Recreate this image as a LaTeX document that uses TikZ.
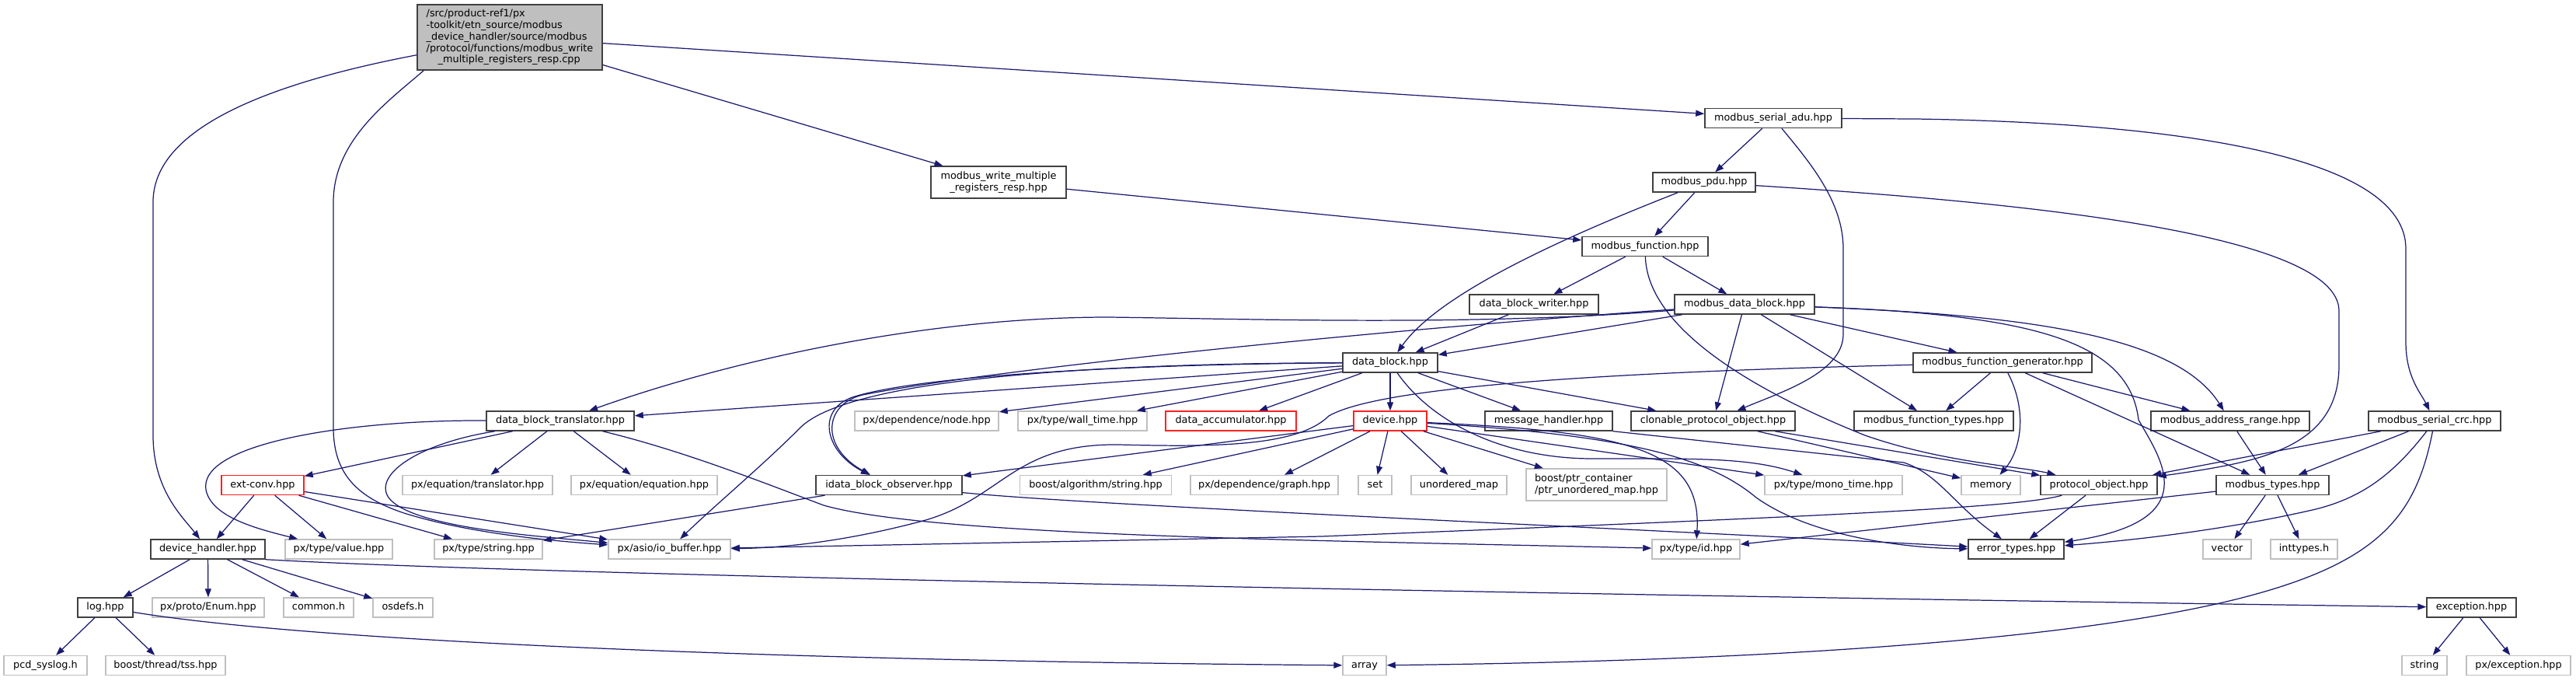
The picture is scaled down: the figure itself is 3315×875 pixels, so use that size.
\documentclass[tikz,border=0pt]{standalone}
\usepackage{fontspec}
\newfontfamily\graphfont{DejaVu Sans}
\usetikzlibrary{arrows.meta}
\definecolor{linkblue}{HTML}{191970}
\definecolor{greyhi}{HTML}{BFBFBF}
\definecolor{greylo}{HTML}{404040}
\definecolor{cutred}{HTML}{FF2020}

\begin{document}
\begin{tikzpicture}[
    x=0.01cm, y=-0.01cm,
    font={\graphfont\fontsize{3.65}{4.2}\selectfont},
    file/.style={rectangle, fill=white, line width=0.4pt, inner sep=0pt, minimum height=0.25cm, align=center},
    oneline/.style={file, text height=2.75pt, text depth=0.85pt},
    twoline/.style={file, minimum height=0.41cm},
    docfile/.style={oneline, draw=greylo},
    extfile/.style={oneline, draw=greyhi},
    cutfile/.style={oneline, draw=cutred},
    rootfile/.style={file, draw=greylo, fill=greyhi, align=left, minimum height=0.84cm},
    link/.style={-{Triangle[length=0.11cm, width=0.08cm]}, draw=linkblue, line width=0.35pt}
]

\path[fill=white, use as bounding box] (0,0) rectangle (3315,875);

\node[rootfile, minimum width=2.38cm] (src) at (656,48) {/src/product-ref1/px\\-toolkit/etn\_source/modbus\\\_device\_handler/source/modbus\\/protocol/functions/modbus\_write\\\hspace*{0.15cm}\_multiple\_registers\_resp.cpp};

\node[docfile, minimum width=1.76cm] (adu) at (2282,152) {modbus\_serial\_adu.hpp};
\node[twoline, draw=greylo, minimum width=1.74cm] (wrresp) at (1285,234.5) {modbus\_write\_multiple\\\_registers\_resp.hpp};
\node[docfile, minimum width=1.32cm] (pdu) at (2193,234.5) {modbus\_pdu.hpp};
\node[docfile, minimum width=1.62cm] (func) at (2117,317) {modbus\_function.hpp};
\node[docfile, minimum width=1.66cm] (writer) at (1974,391.5) {data\_block\_writer.hpp};
\node[docfile, minimum width=1.80cm] (mdblock) at (2245,391.5) {modbus\_data\_block.hpp};
\node[docfile, minimum width=1.22cm] (dblock) at (1789,466.5) {data\_block.hpp};
\node[docfile, minimum width=2.30cm] (fgen) at (2577,466.5) {modbus\_function\_generator.hpp};

\node[docfile, minimum width=1.90cm] (transl) at (721,541.5) {data\_block\_translator.hpp};
\node[extfile, minimum width=1.85cm] (depnode) at (1192.5,541.5) {px/dependence/node.hpp};
\node[extfile, minimum width=1.66cm] (walltime) at (1393,541.5) {px/type/wall\_time.hpp};
\node[cutfile, minimum width=1.68cm] (accum) at (1584,541.5) {data\_accumulator.hpp};
\node[cutfile, minimum width=0.94cm] (device) at (1789,541.5) {device.hpp};
\node[docfile, minimum width=1.64cm] (msghdl) at (1993,541.5) {message\_handler.hpp};
\node[docfile, minimum width=2.11cm] (clonable) at (2204.5,541.5) {clonable\_protocol\_object.hpp};
\node[docfile, minimum width=2.05cm] (ftypes) at (2488.5,541.5) {modbus\_function\_types.hpp};
\node[docfile, minimum width=2.04cm] (addrrange) at (2870,541.5) {modbus\_address\_range.hpp};
\node[docfile, minimum width=1.70cm] (crc) at (3133,541.5) {modbus\_serial\_crc.hpp};

\node[cutfile, minimum width=1.06cm] (extconv) at (338,624) {ext-conv.hpp};
\node[extfile, minimum width=1.93cm] (eqtransl) at (614.5,624) {px/equation/translator.hpp};
\node[extfile, minimum width=1.88cm] (eqeq) at (829,624) {px/equation/equation.hpp};
\node[docfile, minimum width=1.88cm] (observer) at (1144,624) {idata\_block\_observer.hpp};
\node[extfile, minimum width=1.95cm] (algostr) at (1410,624) {boost/algorithm/string.hpp};
\node[extfile, minimum width=1.90cm] (depgraph) at (1627,624) {px/dependence/graph.hpp};
\node[extfile, minimum width=0.43cm] (set) at (1769.5,624) {set};
\node[extfile, minimum width=1.23cm] (umap) at (1877.5,624) {unordered\_map};
\node[twoline, draw=greyhi, align=left, minimum width=1.81cm] (ptrmap) at (2054.5,623.5) {boost/ptr\_container\\/ptr\_unordered\_map.hpp};
\node[extfile, minimum width=1.77cm] (monotime) at (2359.5,624) {px/type/mono\_time.hpp};
\node[extfile, minimum width=0.76cm] (memory) at (2562,624) {memory};
\node[docfile, minimum width=1.50cm] (protobj) at (2701,624) {protocol\_object.hpp};
\node[docfile, minimum width=1.45cm] (mtypes) at (2924.5,624) {modbus\_types.hpp};

\node[docfile, minimum width=1.47cm] (devhdl) at (267.5,706.5) {device\_handler.hpp};
\node[extfile, minimum width=1.38cm] (value) at (436,706.5) {px/type/value.hpp};
\node[extfile, minimum width=1.39cm] (pxstring) at (628.5,706.5) {px/type/string.hpp};
\node[extfile, minimum width=1.57cm] (iobuf) at (861.5,706.5) {px/asio/io\_buffer.hpp};
\node[extfile, minimum width=1.13cm] (typeid) at (2182.5,706.5) {px/type/id.hpp};
\node[docfile, minimum width=1.23cm] (errtypes) at (2594.5,706.5) {error\_types.hpp};
\node[extfile, minimum width=0.62cm] (vector) at (2866,706.5) {vector};
\node[extfile, minimum width=0.86cm] (inttypes) at (2965,706.5) {inttypes.h};

\node[docfile, minimum width=0.71cm] (log) at (135.5,781.5) {log.hpp};
\node[extfile, minimum width=1.44cm] (enum) at (268,781.5) {px/proto/Enum.hpp};
\node[extfile, minimum width=0.90cm] (common) at (410,781.5) {common.h};
\node[extfile, minimum width=0.77cm] (osdefs) at (518.5,781.5) {osdefs.h};
\node[docfile, minimum width=1.15cm] (exception) at (3180.5,781.5) {exception.hpp};

\node[extfile, minimum width=1.07cm] (syslog) at (58.5,856) {pcd\_syslog.h};
\node[extfile, minimum width=1.54cm] (tss) at (213,856) {boost/thread/tss.hpp};
\node[extfile, minimum width=0.56cm] (array) at (1756,856) {array};
\node[extfile, minimum width=0.58cm] (string) at (3120,856) {string};
\node[extfile, minimum width=1.34cm] (pxexc) at (3241,856) {px/exception.hpp};

\draw[link] (src) -- (wrresp);
\draw[link] (src) -- (adu);
\draw[link] (src) .. controls (330,110) and (197,170) .. (197,260) -- (197,560) .. controls (197,630) and (235,665) .. (devhdl);
\draw[link] ([xshift=0.09cm]src.south west) .. controls (500,130) and (429,180) .. (429,260) -- (429,550) .. controls (429,610) and (460,640) .. (520,660) .. controls (600,685) and (700,695) .. (iobuf);

\draw[link] (wrresp) -- (func);
\draw[link] (adu) -- (pdu);
\draw[link] (adu) .. controls (2330,210) and (2372,260) .. (2372,320) -- (2372,430) .. controls (2372,480) and (2290,505) .. (clonable);
\draw[link] (adu) -- (2465,153) .. controls (2800,158) and (3096,200) .. (3096,320) -- (3096,440) .. controls (3096,485) and (3115,505) .. (crc);
\draw[link] (pdu) -- (func);
\draw[link] (pdu) .. controls (2000,310) and (1850,380) .. (dblock);
\draw[link] (pdu) .. controls (2600,260) and (3010,300) .. (3010,400) -- (3010,470) .. controls (3010,580) and (2900,595) .. (protobj);
\draw[link] (func) -- (writer);
\draw[link] (func) -- (mdblock);
\draw[link] (func) .. controls (2120,420) and (2250,500) .. (2400,560) .. controls (2500,595) and (2600,600) .. (protobj);
\draw[link] (writer) -- (dblock);

\draw[link] (mdblock) -- (dblock);
\draw[link] (mdblock) .. controls (1900,420) and (1600,410) .. (1426,408) .. controls (1200,408) and (950,460) .. (transl);
\draw[link] (mdblock) .. controls (1700,430) and (1250,480) .. (1110,508) .. controls (1060,520) and (1055,575) .. (observer);
\draw[link] (mdblock) -- (clonable);
\draw[link] (mdblock) -- (ftypes);
\draw[link] (mdblock) -- (fgen);
\draw[link] (mdblock) .. controls (2600,405) and (2800,430) .. (addrrange);
\draw[link] (mdblock) .. controls (2620,405) and (2740,440) .. (2752,540) .. controls (2780,590) and (2840,670) .. (errtypes);

\draw[link] (dblock) -- (transl);
\draw[link] (dblock) -- (depnode);
\draw[link] (dblock) -- (walltime);
\draw[link] (dblock) -- (accum);
\draw[link] (dblock) .. controls (1500,468) and (1200,480) .. (1100,510) .. controls (1050,525) and (1060,580) .. (observer);
\draw[link] (dblock) .. controls (1300,468) and (1080,500) .. (1030,550) .. controls (980,600) and (920,650) .. (iobuf);
\draw[link] (dblock) -- (device);
\draw[link] (dblock) -- (msghdl);
\draw[link] (dblock) -- (clonable);
\draw[link] (dblock) .. controls (1840,540) and (1930,590) .. (2050,590) .. controls (2180,590) and (2250,588) .. (monotime);

\draw[link] (fgen) -- (ftypes);
\draw[link] (fgen) .. controls (2610,530) and (2600,580) .. (memory);
\draw[link] (fgen) -- (mtypes);
\draw[link] (fgen) -- (addrrange);
\draw[link] (fgen) .. controls (2100,478) and (1780,495) .. (1710,535) .. controls (1670,575) and (1560,575) .. (1440,572) .. controls (1300,570) and (1290,645) .. (1180,672) .. controls (1080,698) and (1000,705) .. (iobuf);

\draw[link] (device) -- (observer);
\draw[link] (device) -- (algostr);
\draw[link] (device) -- (depgraph);
\draw[link] (device) -- (set);
\draw[link] (device) -- (umap);
\draw[link] (device) -- (ptrmap);
\draw[link] (device) -- (monotime);
\draw[link] (device) .. controls (2100,555) and (2190,580) .. (typeid);
\draw[link] (device) .. controls (2100,560) and (2200,590) .. (2260,640) .. controls (2330,690) and (2450,705) .. (errtypes);
\draw[link] (msghdl.south east) -- (2450,595) .. controls (2495,610) and (2515,650) .. (errtypes);
\draw[link] (clonable) -- (protobj);
\draw[link] (clonable) -- (memory);

\draw[link] (protobj) .. controls (2600,652) and (2400,662) .. (1700,690) -- (iobuf);
\draw[link] (protobj) -- (errtypes);
\draw[link] (addrrange) -- (mtypes);
\draw[link] (mtypes) -- (typeid);
\draw[link] (mtypes) -- (vector);
\draw[link] (mtypes) -- (inttypes);
\draw[link] (crc) -- (protobj);
\draw[link] (crc) -- (mtypes);
\draw[link] (crc) .. controls (3080,610) and (3040,640) .. (2980,655) .. controls (2850,685) and (2720,697) .. (errtypes);
\draw[link] (crc) .. controls (3110,660) and (3065,720) .. (2900,765) .. controls (2700,820) and (2300,850) .. (array);

\draw[link] (transl) -- (extconv);
\draw[link] (transl) -- (eqtransl);
\draw[link] (transl) -- (eqeq);
\draw[link] (transl) .. controls (450,540) and (255,570) .. (265,630) .. controls (272,665) and (330,680) .. (value);
\draw[link] (transl) .. controls (540,570) and (480,610) .. (500,640) .. controls (530,680) and (700,690) .. (iobuf);
\draw[link] (transl) .. controls (880,580) and (980,620) .. (1060,650) .. controls (1200,690) and (1700,695) .. (typeid);
\draw[link] (observer) -- (pxstring);
\draw[link] (observer) .. controls (1400,650) and (2100,680) .. (errtypes);

\draw[link] (extconv) -- (devhdl);
\draw[link] (extconv) -- (value);
\draw[link] (extconv) -- (pxstring);
\draw[link] (extconv) -- (iobuf);

\draw[link] (devhdl) -- (log);
\draw[link] (devhdl) -- (enum);
\draw[link] (devhdl) -- (common);
\draw[link] (devhdl) -- (osdefs);
\draw[link] (devhdl.south east) .. controls (700,740) and (2000,765) .. (exception);
\draw[link] (log) -- (syslog);
\draw[link] (log) -- (tss);
\draw[link] (log) .. controls (400,825) and (1000,850) .. (array);
\draw[link] (exception) -- (string);
\draw[link] (exception) -- (pxexc);

\end{tikzpicture}
\end{document}
